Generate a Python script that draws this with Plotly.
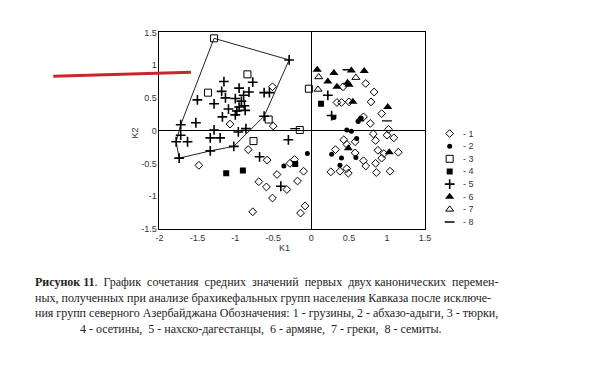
import plotly.graph_objects as go

# ---- data ----
g1_x = [-0.51, -0.50, -1.07, -0.83, -0.58, -1.48, -0.28, -0.22, -0.45, -0.10, -0.69, -0.59, -0.32, -0.18,
        -0.51, -0.08, -0.14, -0.77,
        0.42, 0.72, 0.83, 0.34, 0.40, 0.50, 0.79, 0.93, 0.69, 0.78, 1.02, 0.82, 1.00, 1.09, 0.43, 0.58,
        0.85, 0.47, 0.32, 0.58, 0.88, 0.96, 0.93, 1.15, 0.69, 0.72, 0.47, 0.49, 0.26, 0.38, 0.85, 0.86, 1.04]
g1_y = [0.67, 0.07, 0.10, -0.29, -0.45, -0.53, -0.50, -0.44, -0.67, -0.62, -0.78, -0.86, -0.90, -0.77,
        -1.03, -1.15, -1.26, -1.24,
        0.67, 0.72, 0.59, 0.43, 0.43, 0.44, 0.44, 0.26, 0.21, 0.11, 0.02, -0.05, -0.07, -0.11, -0.14, -0.17,
        -0.15, -0.21, -0.29, -0.34, -0.30, -0.35, -0.42, -0.33, -0.46, -0.54, -0.58, -0.65, -0.63, -0.62, -0.50, -0.64, -0.62]
g2_x = [-0.36, -0.05, 0.30, 0.62, 0.66, 0.47, 0.53, 0.60, 0.27, 0.40, 0.59, 0.38]
g2_y = [-0.54, -0.35, 0.20, 0.14, 0.19, 0.01, -0.01, -0.12, -0.36, -0.42, -0.41, -0.53]
g3_x = [-1.28, -0.84, -1.36, -0.56, -0.76, -0.15, -0.03]
g3_y = [1.41, 0.86, 0.58, 0.17, -0.16, 0.01, 0.64]
g4_x = [0.13, -1.12, -0.90, -0.21]
g4_y = [0.41, -0.65, -0.61, -0.51]
g5_x = [-0.29, -1.15, -0.77, -1.18, -0.95, -0.82, -0.89, -1.13, -1.00, -1.50, -1.28, -0.92, -0.88, -0.95,
        -1.09, -0.98, -0.87, -0.62, -0.55, -1.17, -1.00, -0.62, -1.52, -1.72, -1.28, -0.86, -0.96, -1.72,
        -1.78, -1.63, -1.33, -1.20, -1.02, -1.33, -1.74, -0.68, -0.30, -0.40, 0.27, 0.22]
g5_y = [1.08, 0.75, 0.74, 0.60, 0.65, 0.59, 0.54, 0.50, 0.49, 0.47, 0.41, 0.45, 0.38, 0.36,
        0.33, 0.30, 0.31, 0.58, 0.58, 0.21, 0.24, 0.22, 0.12, 0.09, 0.01, 0.03, -0.02, -0.07,
        -0.17, -0.17, -0.11, -0.11, -0.24, -0.31, -0.42, -0.40, -0.14, -0.85, 0.23, 0.54]
g6_x = [0.08, 0.30, 0.53, 0.70, 0.22, 0.34, 0.48, 0.50, 0.55, 1.01, 0.49, 1.03, 0.64]
g6_y = [0.93, 0.88, 0.92, 0.91, 0.75, 0.67, 0.73, 0.70, 0.44, 0.36, -0.27, -0.33, 0.17]
g7_x = [0.10, 0.59, 0.09]
g7_y = [0.82, 0.81, 0.63]
g8_x = [1.00, -0.21, 0.48]
g8_y = [0.15, 0.03, 0.93]

poly_x = [-1.28, -0.29, -0.62, -1.02, -1.33, -1.74, -1.78, -1.72, -1.28]
poly_y = [1.41, 1.08, 0.22, -0.24, -0.31, -0.42, -0.17, 0.09, 1.41]

x_ticks = [-2, -1.5, -1, -0.5, 0, 0.5, 1, 1.5]
x_tick_labels = ["-2", "-1.5", "-1", "-0.5", "0", "0.5", "1", "1.5"]
y_ticks = [-1.5, -1, -0.5, 0, 0.5, 1, 1.5]
y_tick_labels = ["-1.5", "-1", "-0.5", "0", "0.5", "1", "1.5"]

legend_labels = ["- 1", "- 2", "- 3", "- 4", "- 5", "- 6", "- 7", "- 8"]

NB = "\u00a0"
caption_lines = [
    "<b>Рисунок 11</b>." + NB + " График" + NB + " сочетания" + NB + " средних" + NB + " значений" + NB
    + " первых" + NB + " двух канонических" + NB + " перемен-",
    "ных, полученных при анализе брахикефальных групп населения Кавказа после исключе-",
    "ния групп северного Азербайджана Обозначения: 1 - грузины, 2 - абхазо-адыги, 3 - тюрки,",
    NB * 15 + "4 - осетины," + NB + " 5 - нахско-дагестанцы," + NB + " 6 - армяне," + NB + " 7 - греки,"
    + NB + " 8 - семиты.",
]

# ---- layout helpers: page pixel -> paper (page body has an 8px margin) ----
OFF = 8
W, H = 600 - OFF, 367 - OFF


def px(p):
    return (p - OFF) / W


def py(p):
    return 1 - (p - OFF) / H


styles = [
    dict(symbol="diamond-open", size=6, color="black", line=dict(width=1, color="black")),
    dict(symbol="circle", size=5, color="black"),
    dict(symbol="square-open", size=7, color="black", line=dict(width=1, color="black")),
    dict(symbol="square", size=6, color="black"),
    dict(symbol="cross-thin-open", size=7, color="black", line=dict(width=1.6, color="black")),
    dict(symbol="triangle-up", size=8, color="black"),
    dict(symbol="triangle-up-open", size=7, color="black", line=dict(width=1, color="black")),
    dict(symbol="line-ew-open", size=7, color="black", line=dict(width=1.3, color="black")),
]
groups = [(g1_x, g1_y), (g2_x, g2_y), (g3_x, g3_y), (g4_x, g4_y),
          (g5_x, g5_y), (g6_x, g6_y), (g7_x, g7_y), (g8_x, g8_y)]

fig = go.Figure()
fig.add_trace(go.Scatter(x=poly_x, y=poly_y, mode="lines",
                         line=dict(color="#222", width=1), showlegend=False, hoverinfo="skip"))
for (gx, gy), st in zip(groups, styles):
    fig.add_trace(go.Scatter(x=gx, y=gy, mode="markers", marker=st, showlegend=False))

# manual legend on its own hidden axes
for i, st in enumerate(styles):
    fig.add_trace(go.Scatter(x=[0.22], y=[i + 1], mode="markers", marker=st,
                             xaxis="x2", yaxis="y2", showlegend=False))
annotations = []
for i, lab in enumerate(legend_labels):
    annotations.append(dict(x=0.42, y=i + 1, xref="x2", yref="y2", text=lab, showarrow=False,
                            xanchor="left", yanchor="middle",
                            font=dict(family="Liberation Sans, Arial", size=9, color="#333")))

axis_common = dict(showline=True, mirror=True, linecolor="black", linewidth=1, showgrid=False,
                   zeroline=True, zerolinecolor="black", zerolinewidth=1, ticks="",
                   tickfont=dict(family="Liberation Sans, Arial", size=9, color="#333"))
fig.update_layout(
    width=W, height=H, margin=dict(l=0, r=0, t=0, b=0),
    paper_bgcolor="white", plot_bgcolor="white",
    xaxis=dict(domain=[px(158), px(428)], range=[-2, 1.5], tickvals=x_ticks, ticktext=x_tick_labels,
               **axis_common),
    yaxis=dict(domain=[py(230), py(28)], range=[-1.5, 1.5], tickvals=y_ticks, ticktext=y_tick_labels,
               **axis_common),
    xaxis2=dict(domain=[px(440), px(500)], range=[0, 1], visible=False, anchor="y2"),
    yaxis2=dict(domain=[py(230), py(125.5)], range=[8.54, 0.5], visible=False, anchor="x2"),
    showlegend=False,
)

annotations.append(dict(x=px(285), y=py(257), xref="paper", yref="paper", text="K1", showarrow=False,
                        font=dict(family="Liberation Sans, Arial", size=9, color="#333")))
annotations.append(dict(x=px(126), y=py(132), xref="paper", yref="paper", text="K2", showarrow=False,
                        textangle=-90, font=dict(family="Liberation Sans, Arial", size=9, color="#333")))
annotations.append(dict(x=px(29), y=py(309), xref="paper", yref="paper", text="<br>".join(caption_lines),
                        showarrow=False, xanchor="left", yanchor="middle", align="left",
                        font=dict(family="Liberation Serif, Times New Roman", size=12, color="#222")))
fig.update_layout(annotations=annotations)

# red pen stroke crossing the top-left of the figure
fig.add_shape(type="line", xref="paper", yref="paper", x0=px(50), y0=py(73), x1=px(190), y1=py(69),
              line=dict(color="#c8262a", width=3))

fig.write_html("out.html")
